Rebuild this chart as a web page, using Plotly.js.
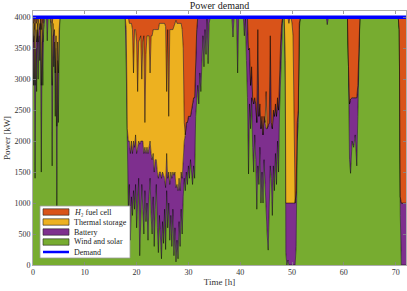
<!DOCTYPE html>
<html>
<head>
<meta charset="utf-8">
<script src="https://cdn.plot.ly/plotly-3.0.1.min.js"></script>
<style>html,body{margin:0;padding:0;background:#fff;}#chart{width:407px;height:291px;}</style>
</head>
<body>
<div id="chart"></div>
<script>
// Time [h]
const timeH = [
  0, 0.1, 0.25, 0.4, 0.55, 0.7, 0.85, 1.0, 1.15, 1.3, 1.45, 1.6, 1.75, 1.9, 2.05, 2.3, 2.6, 2.75, 2.9, 3.3, 3.55, 3.7, 3.85, 4.0, 4.15, 4.3, 4.45, 4.6, 4.75, 4.9, 5.05, 5.2, 5.4,
  17.8, 18.0, 18.2, 18.4, 18.6, 18.8, 19.0, 19.2, 19.4, 19.6,
  19.8, 20.0, 20.2, 20.4, 20.6, 20.8, 21.0, 21.2, 21.4, 21.6,
  21.8, 22.0, 22.2, 22.4, 22.6, 22.8, 23.0, 23.2, 23.4, 23.6,
  23.8, 24.0, 24.2, 24.4, 24.6, 24.8, 25.0, 25.2, 25.4, 25.6,
  25.8, 26.0, 26.2, 26.4, 26.6, 26.8, 27.0, 27.2, 27.4, 27.6,
  27.8, 28.0, 28.2, 28.4, 28.6, 28.8, 29.0, 29.2, 29.4, 29.6,
  29.8, 30.0, 30.2, 30.4, 30.6, 30.8, 31.0, 31.2, 31.4, 31.6,
  31.8, 32.0, 32.2, 32.4, 32.6, 32.8, 33.0, 33.2, 33.4, 33.6,
  33.8, 34.0, 34.2,
  38.4, 38.6, 38.8, 39.3, 39.5, 39.7, 40.6, 40.8,
  41.0, 41.2, 41.4, 41.6, 41.8, 42.0, 42.2, 42.4, 42.6, 42.8,
  43.0, 43.2, 43.4, 43.6, 43.8, 44.0, 44.2, 44.4, 44.6, 44.8,
  45.0, 45.2, 45.4, 45.6, 45.8, 46.0, 46.2, 46.4, 46.6, 46.8,
  47.0, 47.2, 47.4, 47.6, 47.8, 48.0, 48.2,
  48.5, 48.7, 48.8, 49.0, 49.2, 49.4, 49.6, 49.8, 50.0, 50.2, 50.4, 50.6, 50.8, 51.0, 51.2, 51.4, 51.6,
  56.6, 56.8, 57.0,
  60.7, 60.9, 61.1, 61.3, 61.6, 61.9, 62.2, 62.5, 62.7, 62.9, 63.1,
  70.5, 70.7, 70.9, 71.1, 72.0
];
// Wind and solar [kW]
const windSolar = [
  3600, 2900, 3700, 1400, 3500, 2800, 3800, 3000, 3700, 3300, 3900, 1500, 3600, 2900, 3800, 4000, 4000, 3620, 4000, 4000, 3800, 1600, 3700, 3200, 3600, 2400, 3500, 940, 3300, 2300, 3600, 4000, 4000,
  4000, 3200, 1500, 900, 1300, 400, 1100, 800, 1200, 900,
  1300, 600, 1000, 1400, 150, 800, 1300, 900, 500, 1200,
  700, 1000, 400, 1100, 1400, 800, 500, 1100, 300, 900,
  1300, 600, 200, 800, 400, 100, 700, 350, 900, 250,
  1200, 600, 1000, 400, 800, 300, 900, 150, 600, 50,
  400, 100, 700, 300, 900, 500, 1100, 1400, 1200, 1500,
  1300, 1600, 1400, 1700, 1500, 1300, 1600, 1400, 2400, 2700,
  2900, 2600, 3100, 2800, 3400, 3700, 3200, 3800, 3400, 4000,
  3250, 3900, 4000,
  4000, 3680, 4000, 4000, 3100, 4000, 4000, 3700,
  4000, 3300, 2700, 1470, 2600, 2200, 2700, 1900, 1500, 2100,
  1700, 900, 1600, 1300, 1900, 1000, 1500, 1000, 1700, 1300,
  800, 500, 240, 1100, 1600, 1400, 800, 1600, 1200, 1800,
  1300, 2000, 1500, 2500, 3100, 3600, 4000,
  4000, 3000, 200, 0, 80, 0, 0, 0, 0, 0, 0, 0, 300, 2000, 2300, 3800, 4000,
  4000, 3880, 4000,
  4000, 3200, 1700, 1480, 2000, 1900, 2100, 1600, 2400, 3400, 4000,
  4000, 3800, 800, 0, 0
];
// Battery [kW]
const battery = [
  300, 700, 200, 1500, 300, 800, 100, 600, 200, 500, 100, 1400, 300, 700, 200, 0, 0, 380, 0, 0, 100, 1300, 200, 500, 200, 700, 200, 1300, 300, 800, 200, 0, 0,
  0, 600, 700, 1100, 700, 1400, 900, 1000, 800, 1000,
  800, 1200, 900, 600, 1800, 1200, 700, 1100, 1300, 700,
  1100, 900, 1400, 800, 600, 1000, 1200, 700, 1200, 800,
  400, 900, 1200, 700, 1100, 1300, 800, 1100, 500, 1000,
  600, 800, 500, 900, 700, 1100, 600, 1300, 900, 1200,
  900, 1100, 700, 900, 600, 900, 700, 600, 900, 800,
  1000, 800, 1000, 700, 1000, 1300, 1100, 1300, 900, 1100,
  1100, 1400, 900, 1200, 600, 300, 800, 200, 600, 0,
  750, 100, 0,
  0, 320, 0, 0, 900, 0, 0, 300,
  0, 700, 1300, 2000, 900, 700, 500, 800, 1100, 600,
  900, 1400, 2200, 1100, 700, 1200, 900, 1100, 700, 1000,
  1400, 1700, 2000, 1200, 2100, 900, 1400, 900, 1200, 800,
  1100, 700, 1000, 700, 500, 300, 0,
  0, 300, 800, 1000, 920, 1000, 1000, 1000, 1000, 1000, 1000, 1000, 900, 300, 200, 100, 0,
  0, 120, 0,
  0, 0, 900, 1200, 700, 800, 600, 1100, 500, 100, 0,
  0, 0, 300, 1000, 1000
];
// Thermal storage [kW]
const thermal = [
  100, 300, 100, 900, 200, 300, 100, 300, 100, 200, 0, 900, 100, 300, 0, 0, 0, 0, 0, 0, 100, 1000, 100, 300, 200, 900, 300, 1760, 400, 900, 200, 0, 0,
  0, 200, 1800, 2000, 1900, 2100, 1900, 2000, 1100, 1900,
  1700, 1800, 900, 1600, 1700, 1700, 1000, 1600, 1900, 400,
  1600, 1800, 1900, 1800, 1100, 1900, 2000, 2000, 2300, 2100,
  2100, 2300, 2400, 2400, 2400, 2500, 2400, 2450, 2500, 2600,
  1000, 2400, 900, 2500, 2300, 2400, 2300, 2400, 2400, 2700,
  2600, 2700, 2500, 2700, 2400, 2400, 1700, 300, 0, 0,
  0, 0, 0, 0, 0, 0, 0, 0, 0, 0,
  0, 0, 0, 0, 0, 0, 0, 0, 0, 0,
  0, 0, 0,
  0, 0, 0, 0, 0, 0, 0, 0,
  0, 0, 0, 0, 0, 0, 0, 0, 0, 0,
  0, 0, 0, 0, 0, 0, 0, 0, 0, 0,
  600, 0, 0, 0, 0, 0, 0, 0, 0, 0,
  0, 0, 0, 0, 0, 0, 0,
  0, 700, 3000, 3000, 3000, 2900, 3000, 3000, 2900, 2700, 1200, 0, 0, 0, 0, 0, 0,
  0, 0, 0,
  0, 0, 0, 0, 0, 0, 0, 0, 0, 0, 0,
  0, 0, 0, 0, 0
];
// H2 fuel cell [kW]
const h2FuelCell = [
  0, 100, 0, 200, 0, 100, 0, 100, 0, 0, 0, 200, 0, 100, 0, 0, 0, 0, 0, 0, 0, 100, 0, 0, 0, 0, 0, 0, 0, 0, 0, 0, 0,
  0, 0, 0, 0, 100, 100, 100, 200, 900, 200,
  200, 400, 1200, 400, 350, 300, 1000, 400, 300, 1700,
  600, 300, 300, 300, 900, 300, 300, 200, 200, 200,
  200, 200, 200, 100, 100, 100, 100, 100, 100, 150,
  1200, 200, 1600, 200, 200, 200, 200, 150, 100, 50,
  100, 100, 100, 100, 100, 200, 500, 1700, 1900, 1700,
  1700, 1600, 1600, 1600, 1500, 1400, 1300, 1300, 700, 200,
  0, 0, 0, 0, 0, 0, 0, 0, 0, 0,
  0, 0, 0,
  0, 0, 0, 0, 0, 0, 0, 0,
  0, 0, 0, 530, 500, 1100, 800, 1300, 1400, 1300,
  1400, 1700, 200, 1600, 1400, 1800, 1600, 1900, 1600, 1700,
  1200, 1800, 1760, 1700, 300, 1700, 1800, 1500, 1600, 1400,
  1600, 1300, 1500, 800, 400, 100, 0,
  0, 0, 0, 0, 0, 100, 0, 0, 100, 300, 1800, 3000, 2800, 1700, 1500, 100, 0,
  0, 0, 0,
  0, 800, 1400, 1320, 1300, 1300, 1300, 1300, 1100, 500, 0,
  0, 200, 2900, 3000, 3000
];
// Demand [kW]
const demandTime = [0, 72];
const demandPower = [4000, 4000];

const xTicks = [0, 10, 20, 30, 40, 50, 60, 70];
const yTicks = [0, 500, 1000, 1500, 2000, 2500, 3000, 3500, 4000];

const legendNames = ['<i>H</i>\u2082 fuel cell', 'Thermal storage', 'Battery', 'Wind and solar', 'Demand'];
const legendColors = ['#D95319', '#EDB120', '#7E2F8E', '#77AC30', '#0000FF'];

const serif = 'Liberation Serif, DejaVu Serif, serif';
const edge = {color: '#000', width: 0.5};

function areaTrace(name, y, color) {
  return {x: timeH, y: y, name: name, type: 'scatter', mode: 'lines', stackgroup: 'one',
    line: edge, fillcolor: color, hoverinfo: 'skip', showlegend: false};
}

const data = [
  areaTrace('Wind and solar', windSolar, legendColors[3]),
  areaTrace('Battery', battery, legendColors[2]),
  areaTrace('Thermal storage', thermal, legendColors[1]),
  areaTrace('H2 fuel cell', h2FuelCell, legendColors[0]),
  {x: demandTime, y: demandPower, name: 'Demand', type: 'scatter', mode: 'lines',
   line: {color: legendColors[4], width: 3.5}, showlegend: false}
];

// custom legend (paper coords)
const L = 33, T = 11, W = 373, H = 254;
function px(x) { return (x - L) / W; }
function py(y) { return (T + H - y) / H; }
const shapes = [{type: 'rect', xref: 'paper', yref: 'paper', x0: px(40), x1: px(130), y0: py(258), y1: py(206),
  fillcolor: '#fff', line: {color: '#999', width: 0.8}, layer: 'above'}];
const annotations = [];
const rows = [212, 222, 232, 242, 252];
rows.forEach((r, i) => {
  if (i < 4) {
    shapes.push({type: 'rect', xref: 'paper', yref: 'paper', x0: px(43), x1: px(69), y0: py(r + 3.2), y1: py(r - 3.2),
      fillcolor: legendColors[i], line: {color: '#222', width: 0.6}, layer: 'above'});
  } else {
    shapes.push({type: 'line', xref: 'paper', yref: 'paper', x0: px(43), x1: px(69), y0: py(r), y1: py(r),
      line: {color: legendColors[i], width: 2.5}, layer: 'above'});
  }
  annotations.push({xref: 'paper', yref: 'paper', x: px(71.5), y: py(r), xanchor: 'left', yanchor: 'middle',
    text: legendNames[i], showarrow: false, font: {family: serif, size: 8, color: '#222'}});
});

const layout = {
  width: 407, height: 291,
  margin: {l: L, r: 1, t: T, b: 26, pad: 0},
  paper_bgcolor: '#fff', plot_bgcolor: '#fff',
  font: {family: serif, size: 8, color: '#333'},
  title: {text: 'Power demand', font: {family: serif, size: 10, color: '#222'},
    x: 0.5, xref: 'paper', xanchor: 'center', y: 1 - 5.5 / 291, yref: 'container', yanchor: 'middle'},
  showlegend: false,
  xaxis: {range: [0, 72], tickvals: xTicks, ticks: 'inside', ticklen: 3, tickcolor: '#888', tickwidth: 0.8,
    showline: true, linecolor: '#999', linewidth: 0.8, mirror: 'ticks', showgrid: false, zeroline: false,
    tickfont: {family: serif, size: 8, color: '#333'},
    title: {text: 'Time [h]', font: {family: serif, size: 9, color: '#333'}, standoff: 2}},
  yaxis: {range: [0, 4100], tickvals: yTicks, ticks: 'inside', ticklen: 3, tickcolor: '#888', tickwidth: 0.8,
    showline: true, linecolor: '#999', linewidth: 0.8, mirror: 'ticks', showgrid: false, zeroline: false,
    tickfont: {family: serif, size: 8, color: '#333'},
    title: {text: 'Power [kW]', font: {family: serif, size: 9, color: '#333'}, standoff: 2}},
  shapes: shapes,
  annotations: annotations
};

Plotly.newPlot('chart', data, layout, {displayModeBar: false, staticPlot: true});
</script>
</body>
</html>
